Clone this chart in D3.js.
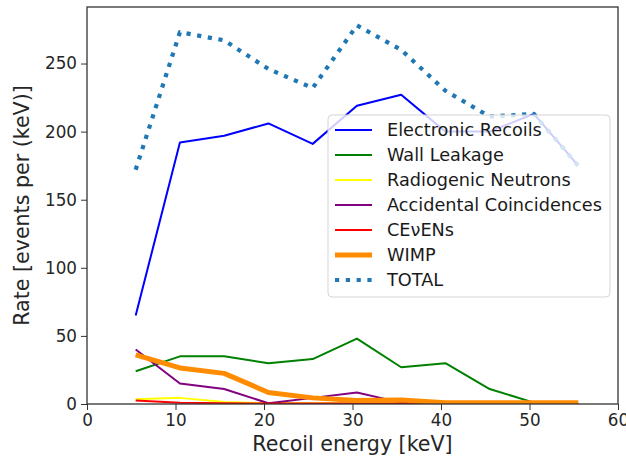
<!DOCTYPE html>
<meta charset="utf-8">

<!-- Load d3.js -->
<script src="https://d3js.org/d3.v7.min.js"></script>

<style>
  body { margin: 0; background: #fff; }
  text { font-family: "DejaVu Sans", sans-serif; }
</style>

<!-- Create a div where the graph will take place -->
<div id="my_dataviz"></div>

<script>

// data
var energy = [5.5, 10.5, 15.5, 20.5, 25.5, 30.5, 35.5, 40.5, 45.5, 50.5, 55.5];
var electronicRecoils = [65, 192, 197, 206, 191, 219, 227, 200, 200, 213, 175];
var wallLeakage = [24, 35, 35, 30, 33, 48, 27, 30, 11, 1, 0.5];
var radiogenicNeutrons = [3.5, 4.5, 1.5, 0.5, 0.5, 0.5, 0.5, 0.5, 0.5, 0.5, 0.5];
var accidentalCoincidences = [40, 15, 11, 0.5, 4.5, 8.5, 1, 0.3, 0.3, 0.3, 0.3];
var cevens = [2.5, 1, 0.5, 0.3, 0.3, 0.3, 0.3, 0.3, 0.3, 0.3, 0.3];
var wimp = [36, 26.5, 22.5, 8.5, 4.5, 2.5, 3, 1, 1, 1, 1];
var total = [172, 273, 267, 246, 232, 278, 260, 230, 211, 213, 175];

var seriesNames = ["Electronic Recoils", "Wall Leakage", "Radiogenic Neutrons",
  "Accidental Coincidences", "CE\u03bdENs", "WIMP", "TOTAL"];
var xTicks = [0, 10, 20, 30, 40, 50, 60];
var yTicks = [0, 50, 100, 150, 200, 250];

// styles for each series (kept apart from the values)
var series = [
  {name: seriesNames[0], values: electronicRecoils, color: "#0000ff", width: 2},
  {name: seriesNames[1], values: wallLeakage, color: "#008000", width: 2},
  {name: seriesNames[2], values: radiogenicNeutrons, color: "#ffff00", width: 2},
  {name: seriesNames[3], values: accidentalCoincidences, color: "#800080", width: 2},
  {name: seriesNames[4], values: cevens, color: "#ff0000", width: 2},
  {name: seriesNames[5], values: wimp, color: "#ff8c00", width: 5},
  {name: seriesNames[6], values: total, color: "#1f77b4", width: 4.2, dash: "4.2,6.6"}
];

// set the dimensions and margins of the graph
var W = 626, H = 457;
var margin = {top: 7, right: 8, bottom: 53, left: 87},
    width = W - margin.left - margin.right,
    height = H - margin.top - margin.bottom;

var svg = d3.select("#my_dataviz")
  .append("svg")
    .attr("width", W)
    .attr("height", H)
  .append("g")
    .attr("transform", "translate(" + margin.left + "," + margin.top + ")");

// X axis
var x = d3.scaleLinear()
  .domain([0, 60])
  .range([0, width]);

// Y axis
var y = d3.scaleLinear()
  .domain([0, 291.5])
  .range([height, 0]);

// lines
var line = d3.line()
  .x(function(d, i) { return x(energy[i]); })
  .y(function(d) { return y(d); });

svg.append("clipPath")
    .attr("id", "clip")
  .append("rect")
    .attr("width", width)
    .attr("height", height);

svg.append("g")
  .attr("clip-path", "url(#clip)")
  .selectAll("path")
  .data(series)
  .enter().append("path")
    .attr("d", function(d) { return line(d.values); })
    .attr("fill", "none")
    .attr("stroke", function(d) { return d.color; })
    .attr("stroke-width", function(d) { return d.width; })
    .attr("stroke-dasharray", function(d) { return d.dash || null; })
    .attr("stroke-linejoin", "round");

// axes
var xAxis = svg.append("g")
  .attr("transform", "translate(0," + height + ")")
  .call(d3.axisBottom(x).tickValues(xTicks).tickSizeInner(6).tickSizeOuter(0).tickPadding(4));

var yAxis = svg.append("g")
  .call(d3.axisLeft(y).tickValues(yTicks).tickSizeInner(6).tickSizeOuter(0).tickPadding(4));

[xAxis, yAxis].forEach(function(a) {
  a.select(".domain").remove();
  a.selectAll("line").attr("stroke", "#333").attr("stroke-width", 1);
  a.selectAll("text")
    .attr("font-family", "DejaVu Sans")
    .attr("font-size", 16.8)
    .attr("fill", "#262626");
});

// frame
svg.append("rect")
  .attr("width", width)
  .attr("height", height)
  .attr("fill", "none")
  .attr("stroke", "#333")
  .attr("stroke-width", 1.3);

// axis labels
svg.append("text")
  .attr("x", width / 2)
  .attr("y", height + 47)
  .attr("text-anchor", "middle")
  .attr("font-size", 20.6)
  .attr("fill", "#262626")
  .text("Recoil energy [keV]");

svg.append("text")
  .attr("transform", "translate(" + (-58) + "," + (height / 2) + ") rotate(-90)")
  .attr("text-anchor", "middle")
  .attr("font-size", 20.6)
  .attr("fill", "#262626")
  .text("Rate [events per (keV)]");

// legend
var lg = svg.append("g")
  .attr("transform", "translate(" + (328 - margin.left) + "," + (115 - margin.top) + ")");

lg.append("rect")
  .attr("width", 282)
  .attr("height", 182)
  .attr("rx", 4)
  .attr("fill", "#fff")
  .attr("fill-opacity", 0.8)
  .attr("stroke", "#d5d5d5")
  .attr("stroke-width", 1);

var item = lg.selectAll(".item")
  .data(series)
  .enter().append("g")
    .attr("transform", function(d, i) { return "translate(0," + (15 + i * 25) + ")"; });

item.append("line")
  .attr("x1", 7).attr("x2", 44)
  .attr("stroke", function(d) { return d.color; })
  .attr("stroke-width", function(d) { return d.width; })
  .attr("stroke-dasharray", function(d) { return d.dash || null; });

item.append("text")
  .attr("x", 59)
  .attr("dy", "0.35em")
  .attr("font-size", 17.7)
  .attr("fill", "#1a1a1a")
  .text(function(d) { return d.name; });

</script>
